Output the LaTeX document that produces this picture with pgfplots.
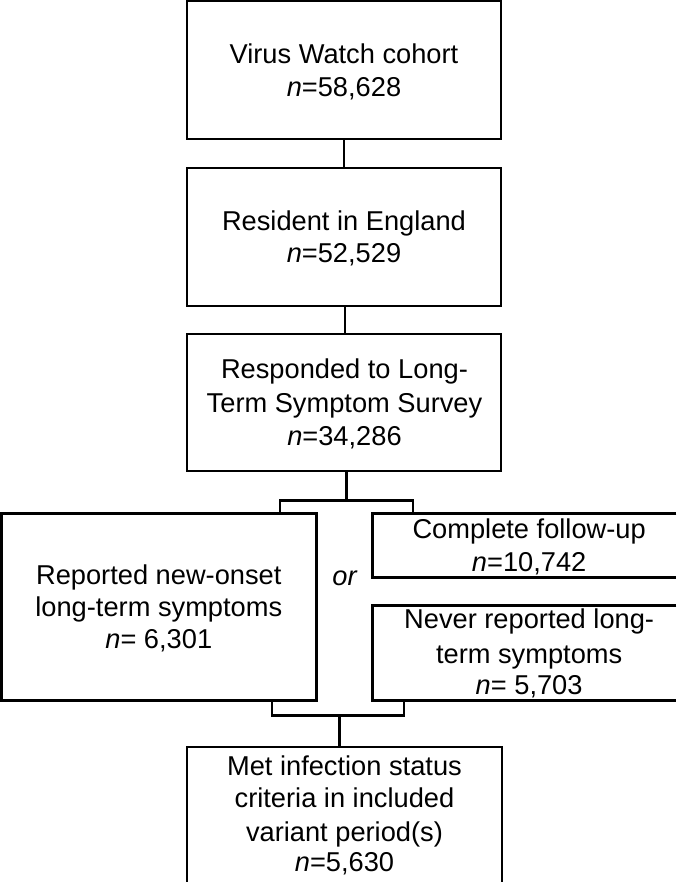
\documentclass[border=0pt]{standalone}
\usepackage{fontspec}
\setmainfont{Liberation Sans}
\usepackage{pgfplots}
\pgfplotsset{compat=1.18}
\tikzset{txt/.style={anchor=base, font=\fontsize{27bp}{32bp}\selectfont, text=black, inner sep=0pt},
  ln/.style={black, line width=2bp, mark=none, line cap=rect, line join=miter},
  lnb/.style={black, line width=2.7bp, mark=none, line cap=butt, line join=miter},
  lnc/.style={black, line width=2.2bp, mark=none, line cap=butt, line join=miter}}
\begin{document}
\begin{tikzpicture}
\begin{axis}[
  width=681bp, height=882bp, scale only axis,
  xmin=0, xmax=681, ymin=0, ymax=882, y dir=reverse,
  hide axis, clip=true,
]
% upper boxes
\addplot[ln] coordinates {(196,9) (507,9) (507,146) (196,146) (196,9)};
\addplot[ln] coordinates {(352,146) (352,174)};
\addplot[ln] coordinates {(196,174) (507,174) (507,311) (196,311) (196,174)};
\addplot[ln] coordinates {(353,311) (353,339)};
\addplot[ln] coordinates {(196,339) (507,339) (507,475) (196,475) (196,339)};
\addplot[lnc] coordinates {(354,475) (354,504)};
\addplot[lnc] coordinates {(288,517) (288,504) (420,504) (420,517)};
% lower boxes
\addplot[lnb, line cap=rect] coordinates {(12,517) (324,517) (324,702) (12,702) (12,517)};
\addplot[lnb] coordinates {(681,517) (380,517) (380,580) (681,580)};
\addplot[lnb] coordinates {(681,608) (380,608) (380,702) (681,702)};
\addplot[lnc] coordinates {(280,701) (280,717) (411,717) (411,701)};
\addplot[lnc] coordinates {(347,717) (347,748)};
\addplot[lnc] coordinates {(196,882) (196,748) (508,748) (508,882)};
% texts
\node[txt] at (axis cs:351.5,71) {Virus Watch cohort};
\node[txt] at (axis cs:351.5,103.3) {\itshape n\upshape =58,628};
\node[txt] at (axis cs:351.5,236) {Resident in England};
\node[txt] at (axis cs:351.5,268.5) {\itshape n\upshape =52,529};
\node[txt] at (axis cs:352,383.3) {Responded to Long-};
\node[txt] at (axis cs:352,416.5) {Term Symptom Survey};
\node[txt] at (axis cs:352,449) {\itshape n\upshape =34,286};
\node[txt] at (axis cs:168,587.3) {Reported new-onset};
\node[txt] at (axis cs:168,619) {long-term symptoms};
\node[txt] at (axis cs:168,650.7) {\itshape n\upshape = 6,301};
\node[txt] at (axis cs:352,588) {\itshape or};
\node[txt] at (axis cs:535,541.7) {Complete follow-up};
\node[txt] at (axis cs:535,574) {\itshape n\upshape =10,742};
\node[txt] at (axis cs:535,631) {Never reported long-};
\node[txt] at (axis cs:535,665) {term symptoms};
\node[txt] at (axis cs:535,696) {\itshape n\upshape = 5,703};
\node[txt] at (axis cs:352,776.7) {Met infection status};
\node[txt] at (axis cs:352,808) {criteria in included};
\node[txt] at (axis cs:352,841.7) {variant period(s)};
\node[txt] at (axis cs:352,871.7) {\itshape n\upshape =5,630};
\end{axis}
\end{tikzpicture}
\end{document}
